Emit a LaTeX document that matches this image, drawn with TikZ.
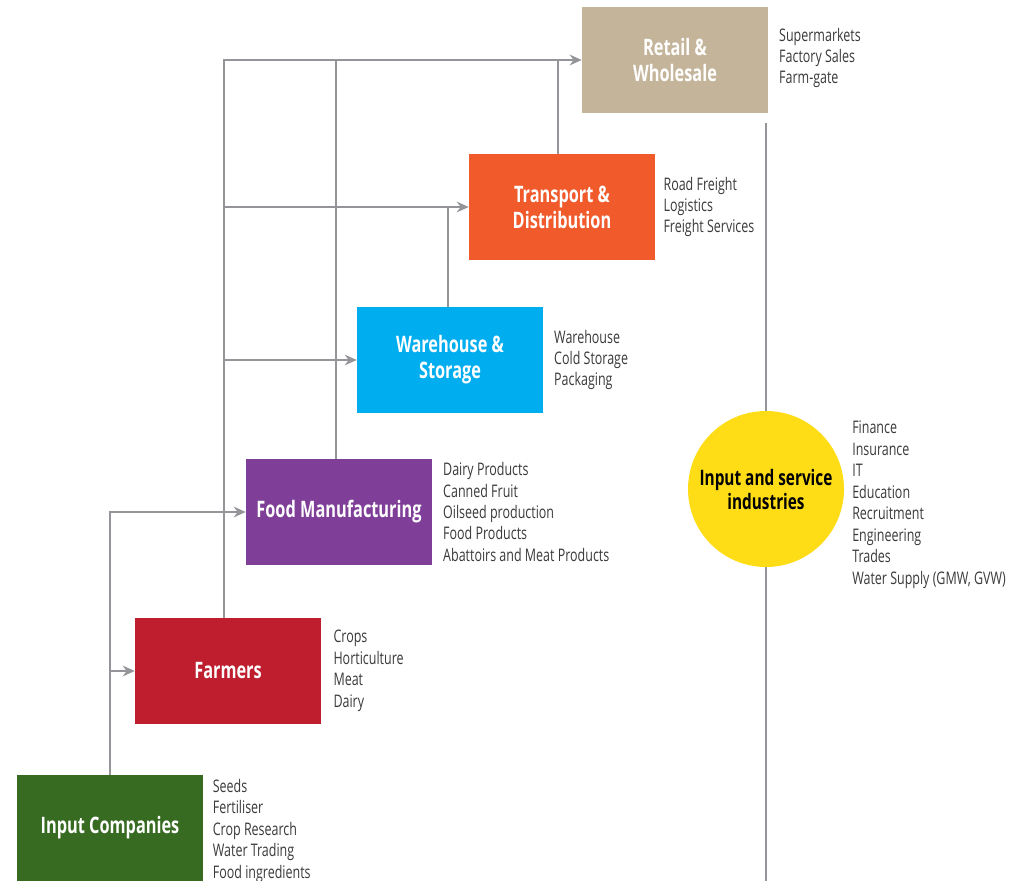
\documentclass[tikz,border=0pt]{standalone}
\usepackage{fontspec}
\setmainfont[FakeStretch=0.72]{Open Sans}
\usetikzlibrary{arrows.meta,positioning}

\definecolor{linkgray}{HTML}{949599}
\definecolor{retailtan}{HTML}{C4B49A}
\definecolor{transorange}{HTML}{F15A2B}
\definecolor{storeblue}{HTML}{00AEEF}
\definecolor{foodpurple}{HTML}{7F3F98}
\definecolor{farmred}{HTML}{BE1E2D}
\definecolor{inputgreen}{HTML}{386B22}
\definecolor{serviceyellow}{HTML}{FEDD16}
\definecolor{listgray}{HTML}{3A3A3A}

\begin{document}
\begin{tikzpicture}[
    x=0.75pt, y=-0.75pt,
    sectorbox/.style={
        rectangle,
        inner sep=0pt,
        minimum width=139.5pt,
        minimum height=79.5pt,
        align=center,
        text=white,
        font=\fontsize{17}{19.5}\selectfont\bfseries,
    },
    itemlist/.style={
        anchor=west,
        inner sep=0pt,
        align=left,
        text=listgray,
        font=\fontsize{13}{16.1}\selectfont,
    },
    link/.style={draw=linkgray, line width=1.3pt},
    feed/.style={link, -{Stealth[length=9pt,width=8pt]}},
]
    \useasboundingbox (0,0) rectangle (1029,881);

    % sector boxes
    \node[sectorbox, fill=retailtan]   (retail)    at (675,60)  {Retail \&\\Wholesale};
    \node[sectorbox, fill=transorange] (transport) at (562,207) {Transport \&\\Distribution};
    \node[sectorbox, fill=storeblue]   (warehouse) at (450,360) {Warehouse \&\\Storage};
    \node[sectorbox, fill=foodpurple]  (food)      at (339,512) {Food Manufacturing};
    \node[sectorbox, fill=farmred]     (farmers)   at (228,671) {Farmers};
    \node[sectorbox, fill=inputgreen]  (input)     at (110,828) {Input Companies};
    \node[circle, fill=serviceyellow, inner sep=0pt, minimum size=117pt,
          align=center, font=\fontsize{16}{18}\selectfont\bfseries]
          (service) at (766,489) {Input and service\\industries};

    % item lists
    \node[itemlist, right=8pt of retail.east, yshift=1.5pt] (retaillist) {Supermarkets\\Factory Sales\\Farm-gate};
    \node[itemlist, right=6pt of transport.east]  (transportlist) {Road Freight\\Logistics\\Freight Services};
    \node[itemlist, right=8pt of warehouse.east]  (warehouselist) {Warehouse\\Cold Storage\\Packaging};
    \node[itemlist, right=8pt of food.east]       (foodlist)      {Dairy Products\\Canned Fruit\\Oilseed production\\Food Products\\Abattoirs and Meat Products};
    \node[itemlist, right=9pt of farmers.east]    (farmerslist)   {Crops\\Horticulture\\Meat\\Dairy};
    \node[itemlist, right=7pt of input.east, yshift=-2pt] (inputlist) {Seeds\\Fertiliser\\Crop Research\\Water Trading\\Food ingredients};
    \node[itemlist, anchor=north west] (servicelist) at (852,421) {Finance\\Insurance\\IT\\Education\\Recruitment\\Engineering\\Trades\\Water Supply (GMW, GVW)};

    \coordinate (stemtop)    at (766,123);
    \coordinate (stembottom) at (766,881);

    % connectors
    \draw[feed] (input.north) -- (input.north |- food.west) -- (food.west);
    \draw[feed] (input.north |- farmers.west) -- (farmers.west);
    \draw[feed] ([xshift=-3pt]farmers.north) -- ([xshift=-3pt]farmers.north |- retail.west) -- (retail.west);
    \draw[feed] ([xshift=-3pt]farmers.north |- transport.west) -- (transport.west);
    \draw[feed] ([xshift=-3pt]farmers.north |- warehouse.west) -- (warehouse.west);
    \draw[link] ([xshift=-2.25pt]food.north) -- ([xshift=-2.25pt]food.north |- retail.west);
    \draw[link] ([xshift=-1.5pt]warehouse.north) -- ([xshift=-1.5pt]warehouse.north |- transport.west);
    \draw[link] ([xshift=-3pt]transport.north) -- ([xshift=-3pt]transport.north |- retail.west);
    \draw[link] (stemtop) -- (service.north);
    \draw[link] (service.south) -- (stembottom);

\end{tikzpicture}
\end{document}
